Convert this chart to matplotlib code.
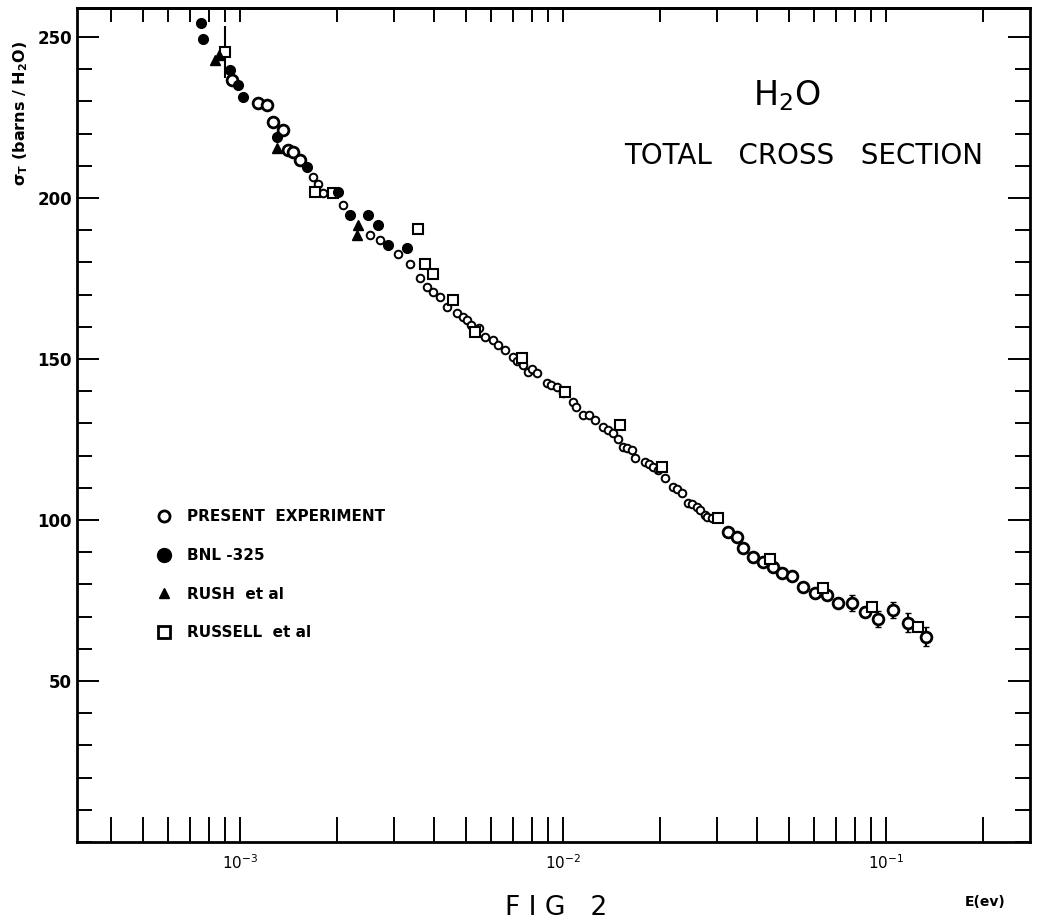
import numpy as np
import matplotlib.pyplot as plt
from matplotlib.lines import Line2D
from matplotlib.ticker import LogLocator, FixedLocator, MultipleLocator, NullFormatter

# --- data: E in eV, sigma_T in barns/H2O ---
present_E = [9.43e-4, 1.137e-3, 1.21e-3, 1.265e-3, 1.359e-3, 1.408e-3, 1.459e-3, 1.534e-3,
             1.683e-3, 1.75e-3, 1.807e-3, 2.084e-3, 2.526e-3, 2.713e-3, 3.085e-3, 3.36e-3,
             3.608e-3, 3.784e-3, 3.958e-3, 4.161e-3, 4.364e-3, 4.687e-3, 4.902e-3, 5.034e-3,
             5.2e-3, 5.5e-3, 5.734e-3, 6.071e-3, 6.3e-3, 6.613e-3, 7.002e-3, 7.2e-3,
             7.5e-3, 7.792e-3, 8.0e-3, 8.29e-3, 8.902e-3, 9.2e-3, 9.561e-3, 1.0e-2,
             1.074e-2, 1.1e-2, 1.153e-2, 1.2e-2, 1.256e-2, 1.33e-2, 1.38e-2, 1.428e-2,
             1.48e-2, 1.534e-2, 1.58e-2, 1.632e-2, 1.671e-2, 1.794e-2, 1.85e-2, 1.899e-2,
             1.97e-2, 2.069e-2, 2.191e-2, 2.25e-2, 2.331e-2, 2.438e-2, 2.5e-2, 2.594e-2,
             2.65e-2, 2.753e-2, 2.8e-2, 2.887e-2, 3.242e-2, 3.449e-2, 3.607e-2, 3.874e-2,
             4.161e-2, 4.469e-2, 4.754e-2, 5.107e-2, 5.534e-2, 6.028e-2, 6.552e-2, 7.1e-2,
             7.83e-2, 8.61e-2, 9.45e-2, 1.051e-1, 1.17e-1, 1.33e-1]
present_sig = [236.6, 229.5, 228.9, 223.7, 221.1, 214.9, 214.4, 211.8,
               206.6, 204.5, 201.5, 197.8, 188.5, 187.0, 182.6, 179.5,
               175.2, 172.5, 170.9, 169.3, 166.2, 164.2, 163.1, 162.1,
               160.5, 159.5, 156.9, 155.9, 154.5, 152.8, 150.7, 149.5,
               148.2, 146.1, 146.9, 145.6, 142.4, 141.8, 141.4, 139.5,
               136.7, 135.0, 132.6, 132.5, 131.0, 129.0, 128.0, 126.9,
               125.0, 122.8, 122.3, 121.7, 119.3, 118.1, 117.3, 116.6,
               115.5, 113.0, 110.3, 109.5, 108.3, 105.3, 105.0, 104.1,
               103.0, 101.6, 101.0, 100.5, 96.4, 94.8, 91.3, 88.6,
               87.0, 85.5, 83.4, 82.6, 79.3, 77.2, 76.7, 74.1,
               74.1, 71.5, 69.2, 72.0, 68.1, 63.8]
present_err = [0] * (len(present_E) - 6) + [2.5, 1.5, 2.5, 2.5, 3.0, 3.0]

bnl_E = [7.56e-4, 7.70e-4, 9.31e-4, 9.86e-4, 1.022e-3, 1.299e-3, 1.609e-3, 2.012e-3,
         2.191e-3, 2.49e-3, 2.674e-3, 2.872e-3, 3.282e-3]
bnl_sig = [254.4, 249.4, 239.8, 235.0, 231.4, 219.0, 209.7, 202.0,
           194.7, 194.7, 191.6, 185.4, 184.4]

rush_E = [8.37e-4, 8.6e-4, 1.299e-3, 2.298e-3, 2.319e-3]
rush_sig = [242.9, 244.5, 215.4, 188.5, 191.5]

russell_E = [8.99e-4, 1.707e-3, 1.941e-3, 3.557e-3, 3.739e-3, 3.958e-3, 4.564e-3, 5.34e-3,
             7.449e-3, 1.0144e-2, 1.501e-2, 2.021e-2, 3.019e-2, 4.374e-2, 6.368e-2,
             9.03e-2, 1.256e-1]
russell_sig = [245.4, 202.0, 201.5, 190.4, 179.5, 176.4, 168.3, 158.4,
               150.2, 139.8, 129.5, 116.6, 100.6, 88.0, 78.8, 73.1, 66.7]
russell_err = [8] + [0] * 16

legend_labels = ['PRESENT  EXPERIMENT', 'BNL -325', 'RUSH  et al', 'RUSSELL  et al']
y_major = [50, 100, 150, 200, 250]
x_major = [1e-3, 1e-2, 1e-1]
x_major_labels = [r'$10^{-3}$', r'$10^{-2}$', r'$10^{-1}$']

fig = plt.figure(figsize=(10.39, 9.23), dpi=100)
ax = fig.add_axes([0.0741, 0.0878, 0.9172, 0.9035])
ax.set_xscale('log')
ax.set_xlim(3.13e-4, 0.279)
ax.set_ylim(0, 259)

pE = np.array(present_E)
ps = np.array(present_sig)
small = (pE > 1.6e-3) & (pE < 3.0e-2)
ax.errorbar(pE, ps, yerr=present_err, fmt='none', ecolor='black', elinewidth=1.5, capsize=2)
ax.scatter(pE[small], ps[small], s=30, facecolors='white', edgecolors='black', linewidths=1.4, zorder=3)
ax.scatter(pE[~small], ps[~small], s=60, facecolors='white', edgecolors='black', linewidths=2, zorder=3)

ax.errorbar(russell_E, russell_sig, yerr=russell_err, fmt='none', ecolor='black', elinewidth=1.5)
ax.plot(russell_E, russell_sig, ls='none', marker='s', ms=7, mfc='white', mec='black', mew=1.5, zorder=4)
ax.plot(bnl_E, bnl_sig, ls='none', marker='o', ms=7, color='black', zorder=5)
ax.plot(rush_E, rush_sig, ls='none', marker='^', ms=7, color='black', zorder=5)

# axes frame and ticks, all pointing inward
for s in ax.spines.values():
    s.set_linewidth(2)
ax.xaxis.set_major_locator(FixedLocator(x_major))
ax.set_xticklabels(x_major_labels, fontsize=11, fontweight='bold')
ax.xaxis.set_minor_locator(LogLocator(base=10, subs=np.arange(2, 10)))
ax.xaxis.set_minor_formatter(NullFormatter())
ax.tick_params(axis='x', which='both', direction='in', length=18, width=1.4, pad=8,
               top=False, bottom=True)

top = ax.secondary_xaxis('top')
top.xaxis.set_major_locator(FixedLocator(x_major))
top.xaxis.set_minor_locator(LogLocator(base=10, subs=np.arange(2, 10)))
top.xaxis.set_major_formatter(NullFormatter())
top.xaxis.set_minor_formatter(NullFormatter())
top.tick_params(axis='x', which='both', direction='in', length=10, width=1.4)
top.spines['top'].set_linewidth(2)

ax.yaxis.set_major_locator(FixedLocator(y_major))
ax.yaxis.set_minor_locator(MultipleLocator(10))
ax.set_yticklabels([str(v) for v in y_major], fontsize=12, fontweight='bold')
ax.tick_params(axis='y', which='major', direction='in', length=16, width=1.4, left=True, right=True)
ax.tick_params(axis='y', which='minor', direction='in', length=11, width=1.4, left=True, right=True)

# texts
ax.text(0.745, 0.895, r'H$_2$O', transform=ax.transAxes, ha='center', va='center',
        fontsize=24, family='DejaVu Sans')
ax.text(0.762, 0.823, 'TOTAL   CROSS   SECTION', transform=ax.transAxes, ha='center', va='center',
        fontsize=20, family='DejaVu Sans')
fig.text(0.020, 0.877, r'$\mathbf{\sigma_T}$ (barns / H$_\mathbf{2}$O)', rotation=90,
         ha='center', va='center', fontsize=11.5, fontweight='bold')
fig.text(0.948, 0.023, 'E(ev)', ha='center', va='center', fontsize=10, fontweight='bold')
fig.text(0.535, 0.016, 'F I G   2', ha='center', va='center', fontsize=19)

handles = [
    Line2D([], [], ls='none', marker='o', ms=8, mfc='white', mec='black', mew=2),
    Line2D([], [], ls='none', marker='o', ms=10, color='black'),
    Line2D([], [], ls='none', marker='^', ms=7, color='black'),
    Line2D([], [], ls='none', marker='s', ms=8, mfc='white', mec='black', mew=2),
]
leg = ax.legend(handles, legend_labels, loc='upper left', bbox_to_anchor=(0.075, 0.408),
                frameon=False, handlelength=1.0, handletextpad=1.0, labelspacing=1.55,
                borderpad=0, prop={'weight': 'bold', 'size': 11})

fig.savefig('out.png', dpi=100)
